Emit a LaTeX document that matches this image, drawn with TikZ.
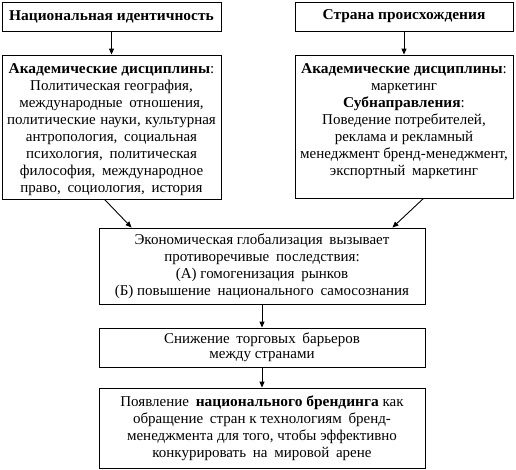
\documentclass[tikz,border=0pt]{standalone}
\usepackage{fontspec}
\setmainfont{Liberation Serif}[BoldFeatures={FakeStretch=1.03}]
\usetikzlibrary{arrows.meta}
\newcommand\ds{\hspace{0.45em}}
\newcommand\dn{\hspace{0.3em}}
\begin{document}
\begin{tikzpicture}[x=1pt,y=-1pt,
  box/.style={draw, line width=0.9pt, inner sep=0pt, align=center, font=\fontsize{15}{17}\selectfont},
  arr/.style={-{Triangle[length=6pt,width=5pt]}, line width=0.9pt}]
\useasboundingbox (0,0) rectangle (516,469);
\node[box, minimum width=219pt, minimum height=29pt] (nat) at (111.5,16.5) {\textbf{Национальная идентичность}};
\node[box, minimum width=218pt, minimum height=29pt] (orig) at (404,16.5) {\textbf{Страна происхождения}};
\node[box] (acad1) at (111.5,127) {\parbox[c][144pt][t]{219pt}{\centering\rule{0pt}{18pt}\textbf{Академические дисциплины}:\\ Политическая география,\\ международные\ds отношения,\\ политические\dn науки,\dn культурная\\ антропология,\ds социальная\\ психология,\ds политическая\\ философия,\ds международное\\ право,\ds социология,\ds история}};
\node[box] (acad2) at (404,126.5) {\parbox[c][143pt][t]{218pt}{\centering\rule{0pt}{18pt}\textbf{Академические дисциплины}:\\ маркетинг\\ \textbf{Субнаправления}:\\ Поведение потребителей,\\ реклама и рекламный\\ менеджмент бренд-менеджмент,\\ экспортный\ds маркетинг}};
\node[box, minimum width=326pt, minimum height=76pt] (econ) at (262,266) {Экономическая глобализация\ds вызывает\\ противоречивые\ds последствия:\\ (А) гомогенизация\ds рынков\\ (Б) повышение\ds национального\ds самосознания};
\node[box, minimum width=326pt, minimum height=39pt, font=\fontsize{15}{15}\selectfont] (trade) at (262,347.5) {Снижение\ds торговых\ds барьеров\\ между странами};
\node[box, minimum width=326pt, minimum height=80pt] (brand) at (262,428) {Появление\ds \textbf{национального брендинга} как\\ обращение\ds стран к технологиям\ds бренд-\\ менеджмента для того, чтобы эффективно\\ конкурировать\ds на\ds мировой\ds арене};
\draw[arr] (nat) -- (acad1);
\draw[arr] (orig) -- (acad2);
\draw[arr] ([xshift=103pt]acad1.south west) -- ([xshift=33pt]econ.north west);
\draw[arr] ([xshift=-90pt]acad2.south east) -- ([xshift=-33pt]econ.north east);
\draw[arr] (econ) -- (trade);
\draw[arr] (trade) -- (brand);
\end{tikzpicture}
\end{document}
